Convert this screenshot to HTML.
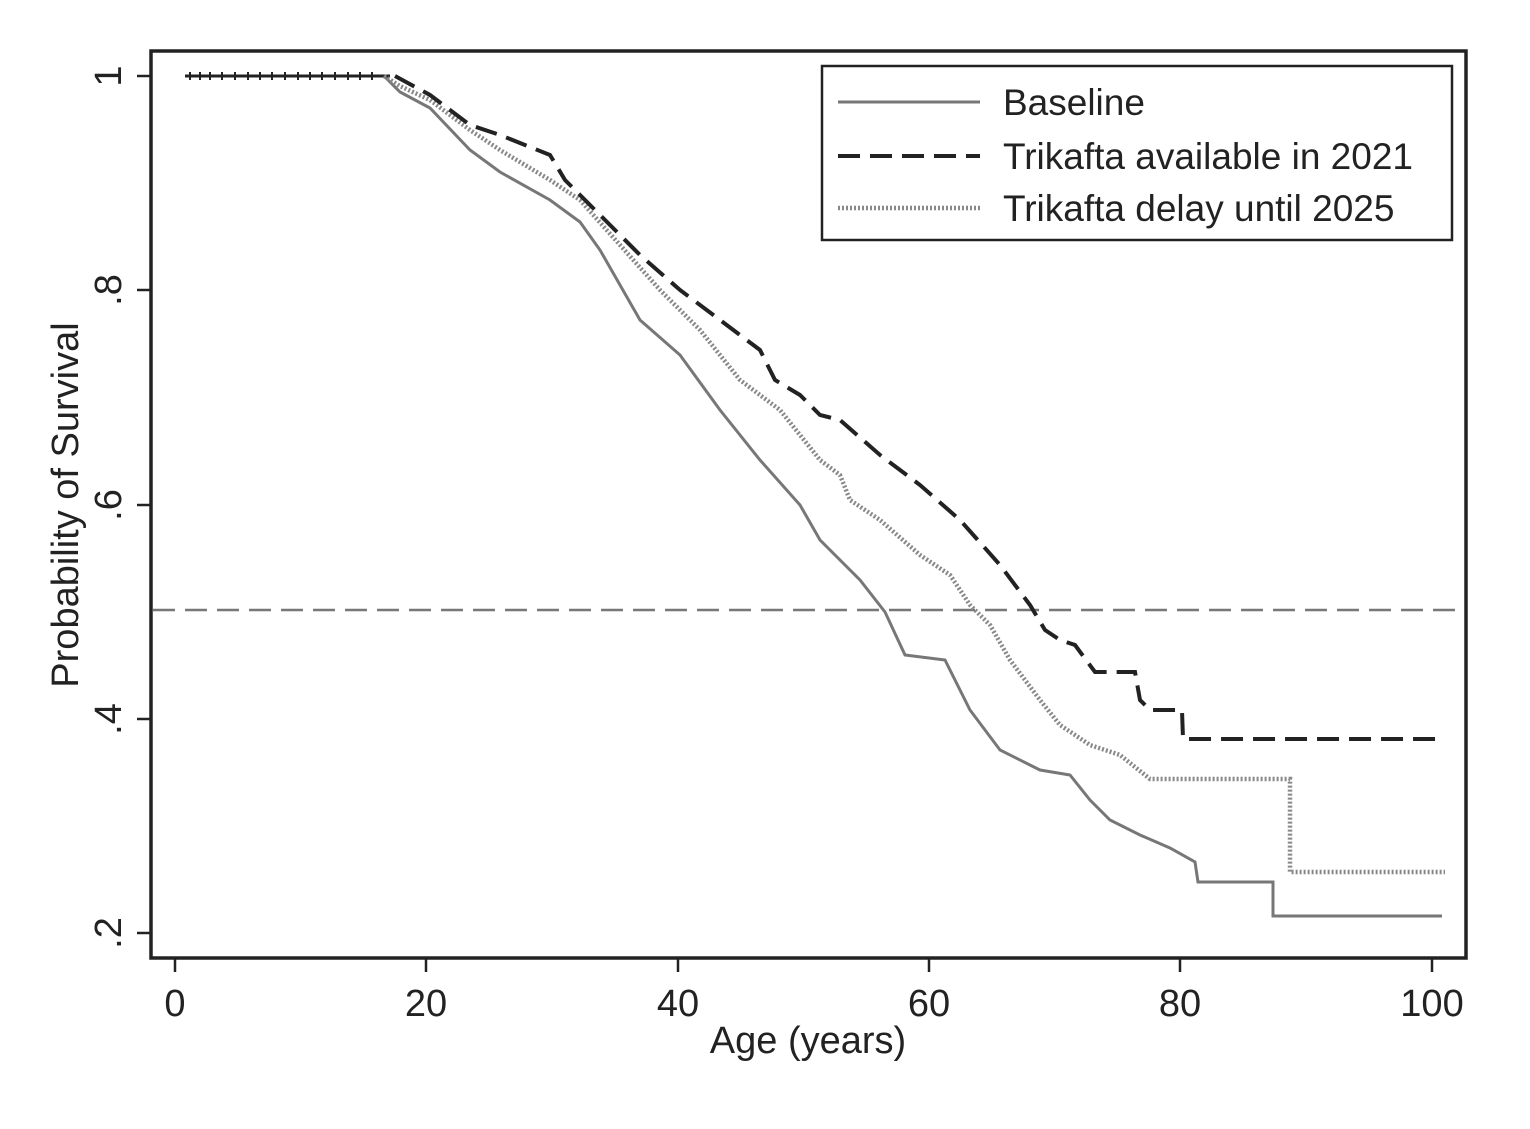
<!DOCTYPE html>
<html><head><style>
html,body{margin:0;padding:0;background:#fff;}
svg{display:block;}
text{font-family:"Liberation Sans",Arial,sans-serif;fill:#222;}
</style></head><body>
<svg width="1530" height="1129" viewBox="0 0 1530 1129" xmlns="http://www.w3.org/2000/svg">
<rect x="0" y="0" width="1530" height="1129" fill="#fff"/>
<rect x="151" y="51" width="1315" height="907" fill="none" stroke="#222" stroke-width="3.5"/>
<g stroke="#222" stroke-width="2.5">
<line x1="175" y1="958" x2="175" y2="972"/>
<line x1="426" y1="958" x2="426" y2="972"/>
<line x1="678" y1="958" x2="678" y2="972"/>
<line x1="929" y1="958" x2="929" y2="972"/>
<line x1="1180" y1="958" x2="1180" y2="972"/>
<line x1="1432" y1="958" x2="1432" y2="972"/>
<line x1="137" y1="76" x2="151" y2="76"/>
<line x1="137" y1="290" x2="151" y2="290"/>
<line x1="137" y1="505" x2="151" y2="505"/>
<line x1="137" y1="719" x2="151" y2="719"/>
<line x1="137" y1="933" x2="151" y2="933"/>
</g>
<g font-size="38" text-anchor="middle">
<text x="175" y="1016">0</text>
<text x="426" y="1016">20</text>
<text x="678" y="1016">40</text>
<text x="929" y="1016">60</text>
<text x="1180" y="1016">80</text>
<text x="1432" y="1016">100</text>
<text x="808" y="1053">Age (years)</text>
<text transform="translate(121,76) rotate(-90)">1</text>
<text transform="translate(121,290) rotate(-90)">.8</text>
<text transform="translate(121,505) rotate(-90)">.6</text>
<text transform="translate(121,719) rotate(-90)">.4</text>
<text transform="translate(121,933) rotate(-90)">.2</text>
<text transform="translate(78,505) rotate(-90)">Probability of Survival</text>
</g>
<line x1="153" y1="610" x2="1464" y2="610" stroke="#777" stroke-width="2.5" stroke-dasharray="22,10"/>
<line x1="185" y1="76" x2="390" y2="76" stroke="#222" stroke-width="3"/>
<path d="M190 72v8M200 72v8M210 72v8M222 72v8M235 72v8M248 72v8M260 72v8M272 72v8M285 72v8M298 72v8M310 72v8M322 72v8M335 72v8M348 72v8M360 72v8M372 72v8" stroke="#222" stroke-width="2"/>
<polyline fill="none" stroke="#777" stroke-width="3" points="384,76 400,92 430,108 470,150 500,172 550,200 580,222 600,250 640,320 680,355 720,410 760,460 800,505 820,540 860,580 885,612 905,655 945,660 970,710 1000,750 1040,770 1070,775 1090,800 1110,820 1140,835 1170,848 1195,862 1198,882 1273,882 1273,916 1442,916"/>
<polyline fill="none" stroke="#888" stroke-width="4.5" stroke-dasharray="2,2" points="384,76 400,86 430,100 470,130 500,150 550,180 580,200 620,245 660,290 700,330 740,380 780,410 820,460 840,475 850,500 880,520 920,555 950,575 970,605 990,625 1010,660 1040,700 1060,725 1090,745 1120,755 1145,775 1150,779 1290,779 1290,872 1445,872"/>
<polyline fill="none" stroke="#222" stroke-width="4" stroke-dasharray="22,10" points="395,76 430,95 470,125 500,135 550,155 565,180 600,215 640,255 680,290 720,320 760,350 775,380 800,395 820,415 840,420 880,455 920,485 960,520 1000,565 1030,605 1045,630 1060,640 1075,645 1095,672 1135,672 1140,700 1150,710 1182,710 1183,739 1440,739"/>
<rect x="822" y="66" width="630" height="174" fill="#fff" stroke="#222" stroke-width="2.5"/>
<line x1="838" y1="102" x2="980" y2="102" stroke="#777" stroke-width="3"/>
<line x1="838" y1="156" x2="980" y2="156" stroke="#222" stroke-width="4" stroke-dasharray="22,10"/>
<line x1="838" y1="208" x2="980" y2="208" stroke="#888" stroke-width="4.5" stroke-dasharray="2,2"/>
<g font-size="37">
<text x="1003" y="115">Baseline</text>
<text x="1003" y="169">Trikafta available in 2021</text>
<text x="1003" y="221">Trikafta delay until 2025</text>
</g>
</svg>
</body></html>
